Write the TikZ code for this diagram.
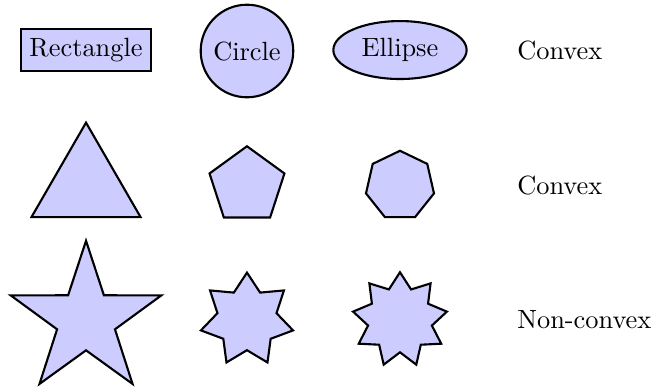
\documentclass[tikz,border=0pt]{standalone}
\usetikzlibrary{shapes.geometric,positioning}
\tikzset{
    shapebox/.style={draw=black, fill=blue!20, thick},
    polybox/.style={shapebox, regular polygon, inner sep=0pt},
    starbox/.style={shapebox, star, inner sep=0pt},
    rowlabel/.style={anchor=west}
}

\begin{document}
\begin{tikzpicture}
    \useasboundingbox (0,0) rectangle (8.693,-5.16);

    % Row 1: round and box shapes
    \node (rect) [shapebox, rectangle] at (1.147,-0.667) {Rectangle};
    \node (circ) [shapebox, circle] at (3.293,-0.68) {Circle};
    \node (ell) [shapebox, ellipse] at (5.333,-0.667) {Ellipse};
    \node (label_1) [rowlabel] at (6.773,-0.667) {Convex};

    % Row 2: regular polygons
    \node (tri) [polybox, regular polygon sides=3, minimum size=1.68cm] at (1.147,-2.475) {};
    \node (pent) [polybox, regular polygon sides=5, minimum size=1.05cm] at (3.293,-2.475) {};
    \node (hept) [polybox, regular polygon sides=7, minimum size=0.93cm] at (5.333,-2.475) {};
    \node (label_2) [rowlabel] at (6.773,-2.475) {Convex};

    % Row 3: stars
    \node (star_5) [starbox, star points=5, star point ratio=2.6, minimum size=2.11cm] at (1.147,-4.265) {};
    \node (star_7) [starbox, star points=7, star point ratio=1.56, minimum size=1.26cm] at (3.293,-4.265) {};
    \node (star_9) [starbox, star points=9, star point ratio=1.47, minimum size=1.27cm] at (5.333,-4.265) {};
    \node (label_3) [rowlabel] at (6.773,-4.265) {Non-convex};
\end{tikzpicture}
\end{document}
